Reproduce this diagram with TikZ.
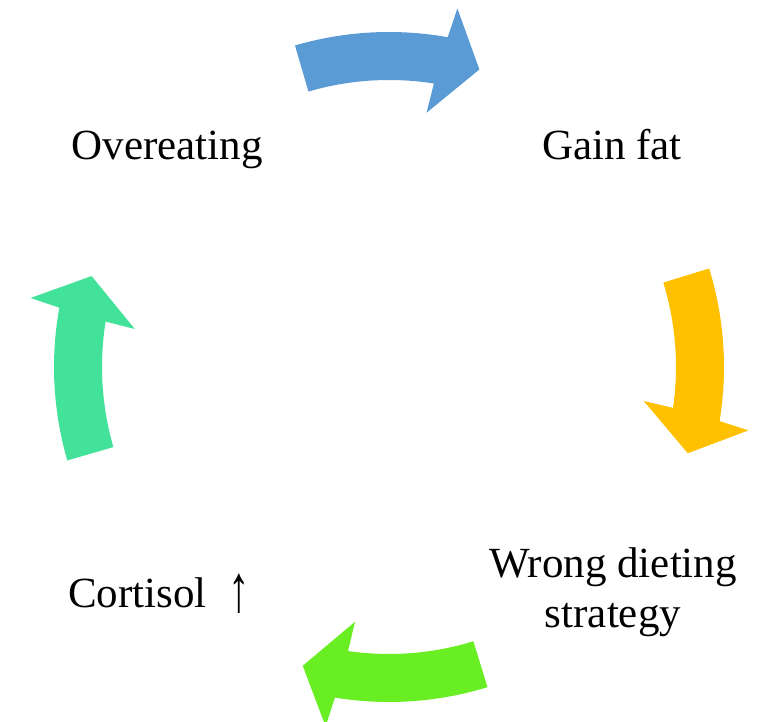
\documentclass[tikz,border=0pt]{standalone}
\usepackage{fontspec}
\setmainfont{Liberation Serif}
\definecolor{arrBlue}{HTML}{5B9BD5}
\definecolor{arrYellow}{HTML}{FFC000}
\definecolor{arrGreen}{HTML}{68EE22}
\definecolor{arrTeal}{HTML}{43E29A}
\newcommand\cyclearrow[2]{%
  \fill[#2] (#1:335) arc[start angle=#1, end angle=#1-26.4, radius=335]
    -- (#1-27.1:365) -- (#1-33.2:311) -- (#1-24.7:257) -- (#1-25.3:287)
    arc[start angle=#1-25.3, end angle=#1, radius=287] -- cycle;}
\begin{document}
\begin{tikzpicture}[x=1pt,y=1pt,
  lbl/.style={font=\fontsize{43}{50}\selectfont, inner sep=0pt, anchor=base, align=center}]
\useasboundingbox (-389,-355) rectangle (371,367);
\cyclearrow{106.3}{arrBlue}
\cyclearrow{17.1}{arrYellow}
\cyclearrow{-72.9}{arrGreen}
\cyclearrow{-163.8}{arrTeal}
\node[lbl] (over) at (-222,207) {Overeating};
\node[lbl] (gain) at (223,207) {Gain fat};
\node[lbl] (wrong) at (224,-260) {Wrong dieting\\strategy};
\node[lbl] (cort) at (-230,-240) {Cortisol\ \ \raisebox{-5pt}{\scalebox{1}[1.55]{↑}}};
\end{tikzpicture}
\end{document}
